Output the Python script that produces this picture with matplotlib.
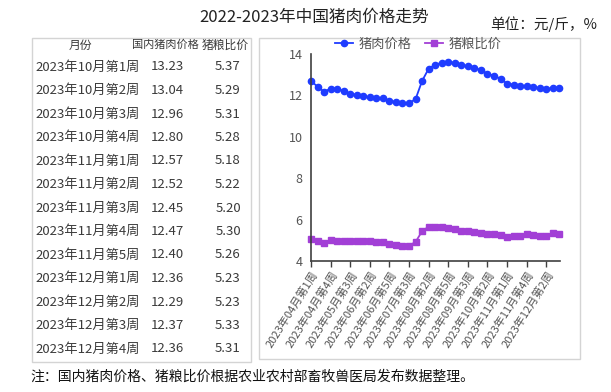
import matplotlib
matplotlib.use("Agg")
import matplotlib.pyplot as plt
from matplotlib.patches import Rectangle

plt.rcParams['font.family'] = ['Noto Sans CJK SC', 'DejaVu Sans']
plt.rcParams['axes.unicode_minus'] = False

# 周度数据：2023年04月第1周 ~ 2023年12月第4周
pork_price = [12.70, 12.42, 12.18, 12.33, 12.33, 12.21, 12.08, 12.03, 11.98, 11.90,
              11.86, 11.86, 11.73, 11.70, 11.63, 11.63, 11.82, 12.70, 13.29, 13.48,
              13.58, 13.63, 13.57, 13.47, 13.42, 13.32, 13.23, 13.04, 12.96, 12.80,
              12.57, 12.52, 12.45, 12.47, 12.40, 12.36, 12.29, 12.37, 12.36]
grain_ratio = [5.05, 4.97, 4.86, 5.02, 4.99, 4.95, 4.95, 4.95, 4.95, 4.95,
               4.92, 4.92, 4.84, 4.78, 4.74, 4.74, 4.92, 5.44, 5.66, 5.66,
               5.63, 5.60, 5.55, 5.47, 5.44, 5.40, 5.37, 5.29, 5.31, 5.28,
               5.18, 5.22, 5.20, 5.30, 5.26, 5.23, 5.23, 5.33, 5.31]
tick_labels = ['2023年04月第1周', '2023年04月第4周', '2023年05月第3周', '2023年06月第2周',
               '2023年06月第5周', '2023年07月第3周', '2023年08月第2周', '2023年08月第5周',
               '2023年09月第3周', '2023年10月第2周', '2023年11月第1周', '2023年11月第4周',
               '2023年12月第2周']

# 表格数据
table_weeks = ['2023年10月第1周', '2023年10月第2周', '2023年10月第3周', '2023年10月第4周',
               '2023年11月第1周', '2023年11月第2周', '2023年11月第3周', '2023年11月第4周',
               '2023年11月第5周', '2023年12月第1周', '2023年12月第2周', '2023年12月第3周',
               '2023年12月第4周']
table_price = ['13.23', '13.04', '12.96', '12.80', '12.57', '12.52', '12.45',
               '12.47', '12.40', '12.36', '12.29', '12.37', '12.36']
table_ratio = ['5.37', '5.29', '5.31', '5.28', '5.18', '5.22', '5.20',
               '5.30', '5.26', '5.23', '5.23', '5.33', '5.31']

W, H = 611, 392
fig = plt.figure(figsize=(W / 100, H / 100), dpi=100)

def fx(px):
    return px / W

def fy(py):
    return 1 - py / H

# 标题
fig.text(fx(314), fy(17), '2022-2023年中国猪肉价格走势', ha='center', va='center',
         fontsize=12, color='#222222')
fig.text(fx(597), fy(24), '单位：元/斤，%', ha='right', va='center',
         fontsize=10.5, color='#222222')

# 两个边框
for x0, y0, x1, y1 in [(32, 38, 251, 362), (259, 38, 580, 359)]:
    fig.patches.append(Rectangle((fx(x0), fy(y1)), fx(x1) - fx(x0), fy(y0) - fy(y1),
                                 transform=fig.transFigure, fill=False,
                                 edgecolor='#d4d4d4', linewidth=1))

# 左侧表格
tc = '#3a3a3a'
fig.text(fx(80), fy(45), '月份', ha='center', va='center', fontsize=8.5, color=tc)
fig.text(fx(165), fy(45), '国内猪肉价格', ha='center', va='center', fontsize=8, color=tc)
fig.text(fx(225), fy(45), '猪粮比价', ha='center', va='center', fontsize=8.5, color=tc)
for i, (w, p, r) in enumerate(zip(table_weeks, table_price, table_ratio)):
    yy = 67 + 23.5 * i
    fig.text(fx(35), fy(yy), w, ha='left', va='center', fontsize=9.5, color=tc)
    fig.text(fx(167), fy(yy), p, ha='center', va='center', fontsize=9.5, color=tc)
    fig.text(fx(228), fy(yy), r, ha='center', va='center', fontsize=9.5, color=tc)

# 右侧折线图
ax = fig.add_axes([fx(311), fy(261), fx(560) - fx(311), fy(54) - fy(261)])
x = list(range(len(pork_price)))
ax.plot(x, pork_price, color='#1f3cff', marker='o', markersize=4.5, linewidth=1.3,
        label='猪肉价格', clip_on=False)
ax.plot(x, grain_ratio, color='#a23fd6', marker='s', markersize=4, linewidth=1.3,
        label='猪粮比价', clip_on=False)
ax.set_xlim(0, len(x) - 1 + 0.1)
ax.set_ylim(4, 14)
ax.set_yticks([4, 6, 8, 10, 12, 14])
ax.set_xticks(x[::3])
ax.set_xticklabels(tick_labels, rotation=58, ha='right', va='top',
                   rotation_mode='anchor', fontsize=8, color='#555555')
ax.tick_params(axis='y', length=0, labelsize=9, labelcolor='#555555', pad=6)
ax.tick_params(axis='x', length=4, color='#404040', width=1, pad=2)
for s in ['top', 'right']:
    ax.spines[s].set_visible(False)
for s in ['left', 'bottom']:
    ax.spines[s].set_color('#404040')
    ax.spines[s].set_linewidth(1.2)
ax.patch.set_visible(False)

fig.legend(loc='center', bbox_to_anchor=(fx(418), fy(44)), ncol=2, frameon=False,
           fontsize=9.5, handlelength=1.4, handletextpad=0.4, columnspacing=1.0,
           labelcolor='#555555')

# 注释
fig.text(fx(30), fy(377), '注：国内猪肉价格、猪粮比价根据农业农村部畜牧兽医局发布数据整理。',
         ha='left', va='center', fontsize=10, color='#111111')

fig.savefig('out.png', dpi=100)
